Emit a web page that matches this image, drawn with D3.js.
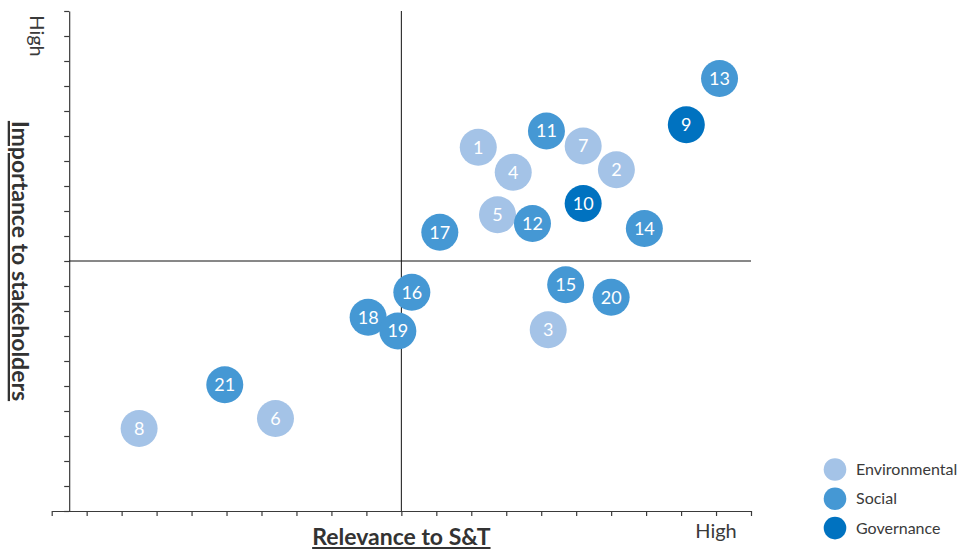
<!DOCTYPE html>
<html>
<head>
<meta charset="utf-8">
<script src="https://cdn.jsdelivr.net/npm/d3@7"></script>
<style>
  body { margin: 0; background: #fff; }
  svg { display: block; }
</style>
</head>
<body>
<svg width="962" height="549"></svg>
<script>
var ids = [1, 2, 3, 4, 5, 6, 7, 8, 9, 10, 11, 12, 13, 14, 15, 16, 17, 18, 19, 20, 21];
var groups = ['Environmental', 'Environmental', 'Environmental', 'Environmental', 'Environmental',
  'Environmental', 'Environmental', 'Environmental', 'Governance', 'Governance', 'Social', 'Social',
  'Social', 'Social', 'Social', 'Social', 'Social', 'Social', 'Social', 'Social', 'Social'];
var relevance = [12.2, 16.15, 14.2, 13.2, 12.75, 6.4, 15.2, 2.5, 18.15, 15.2, 14.15, 13.75,
  19.1, 16.95, 14.7, 10.3, 11.1, 9.05, 9.9, 16.0, 4.95];
var importance = [14.55, 13.65, 7.25, 13.55, 11.85, 3.7, 14.6, 3.3, 15.45, 12.3, 15.2, 11.5,
  17.3, 11.3, 9.05, 8.75, 11.15, 7.75, 7.2, 8.55, 5.05];
var legendNames = ['Environmental', 'Social', 'Governance'];
var legendColors = ['#a4c3e7', '#4598d4', '#0072c0'];

var svg, width, height;
var font = 'Lato, "Open Sans", sans-serif';

document.addEventListener('DOMContentLoaded', function () {
  svg = d3.select('svg');
  width = +svg.attr('width');
  height = +svg.attr('height');
  drawMatrix();
});

function drawMatrix() {
  var xScale = d3.scaleLinear().domain([0, 20]).range([51.7, 751]);
  var yScale = d3.scaleLinear().domain([0, 20]).range([511, 11]);
  var color = d3.scaleOrdinal().domain(legendNames).range(legendColors);
  var ticks = d3.range(0, 21);
  var axisColor = '#3a3a3a';

  // x axis along the bottom, ticks hanging down
  var xAxis = d3.axisBottom(xScale).tickValues(ticks).tickSize(5).tickSizeOuter(0).tickFormat('');
  var gx = svg.append('g').attr('transform', 'translate(0,' + yScale(0) + ')').call(xAxis);

  // y axis crosses half a step in from the left
  var yAxis = d3.axisLeft(yScale).tickValues(ticks).tickSize(5).tickSizeOuter(0).tickFormat('');
  var gy = svg.append('g').attr('transform', 'translate(' + xScale(0.5) + ',0)').call(yAxis);

  [gx, gy].forEach(function (g) {
    g.selectAll('path').attr('stroke', axisColor).attr('stroke-width', 1.2);
    g.selectAll('line').attr('stroke', axisColor).attr('stroke-width', 1.2);
  });

  // quadrant lines
  svg.append('line')
    .attr('x1', xScale(10)).attr('x2', xScale(10))
    .attr('y1', yScale(20)).attr('y2', yScale(0))
    .attr('stroke', '#111').attr('stroke-width', 1);
  svg.append('line')
    .attr('x1', xScale(0.5)).attr('x2', xScale(20))
    .attr('y1', yScale(10)).attr('y2', yScale(10))
    .attr('stroke', '#111').attr('stroke-width', 1);

  // bubbles
  var pts = ids.map(function (id, i) {
    return { id: id, group: groups[i], x: relevance[i], y: importance[i] };
  });
  var bub = svg.append('g').selectAll('g')
    .data(pts)
    .enter()
    .append('g')
    .attr('transform', d => 'translate(' + xScale(d.x) + ',' + yScale(d.y) + ')');
  bub.append('circle')
    .attr('r', 18.5)
    .attr('fill', d => color(d.group));
  bub.append('text')
    .attr('text-anchor', 'middle')
    .attr('dy', '0.36em')
    .attr('fill', '#fff')
    .style('font-family', font)
    .style('font-size', '18px')
    .text(d => d.id);

  // axis titles
  svg.append('text')
    .attr('x', xScale(10))
    .attr('y', 545)
    .attr('text-anchor', 'middle')
    .attr('fill', '#333')
    .style('font-family', font)
    .style('font-weight', 'bold')
    .style('font-size', '23px')
    .style('text-decoration', 'underline')
    .text('Relevance to S&T');

  svg.append('text')
    .attr('transform', 'translate(12,' + yScale(10) + ') rotate(90)')
    .attr('text-anchor', 'middle')
    .attr('fill', '#333')
    .style('font-family', font)
    .style('font-weight', 'bold')
    .style('font-size', '23px')
    .style('text-decoration', 'underline')
    .text('Importance to stakeholders');

  svg.append('text')
    .attr('x', xScale(19))
    .attr('y', 538)
    .attr('text-anchor', 'middle')
    .attr('fill', '#3a3a3a')
    .style('font-family', font)
    .style('font-size', '20px')
    .text('High');

  svg.append('text')
    .attr('transform', 'translate(30,' + yScale(19) + ') rotate(90)')
    .attr('text-anchor', 'middle')
    .attr('fill', '#3a3a3a')
    .style('font-family', font)
    .style('font-size', '20px')
    .text('High');

  // legend
  var leg = svg.append('g').selectAll('g')
    .data(legendNames)
    .enter()
    .append('g')
    .attr('transform', (d, i) => 'translate(835,' + (469.5 + i * 29.3) + ')');
  leg.append('circle')
    .attr('r', 11.3)
    .attr('fill', d => color(d));
  leg.append('text')
    .attr('x', 21)
    .attr('dy', '0.35em')
    .attr('fill', '#3a3a3a')
    .style('font-family', font)
    .style('font-size', '16px')
    .text(d => d);
}
</script>
</body>
</html>
